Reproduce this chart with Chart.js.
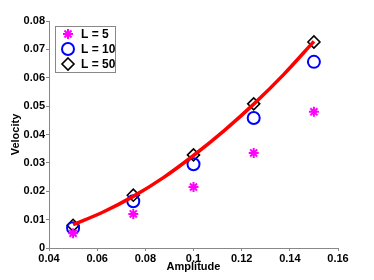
<!DOCTYPE html>
<html>
<head>
<meta charset="utf-8">
<script src="https://cdn.jsdelivr.net/npm/chart.js@4/dist/chart.umd.min.js"></script>
<style>
  html, body { margin: 0; padding: 0; background: #fff; }
  #wrap { width: 374px; height: 280px; }
</style>
</head>
<body>
<div id="wrap"><canvas id="velChart" width="374" height="280"></canvas></div>
<script>
const amplitudes = [0.05, 0.075, 0.1, 0.125, 0.15];
const velL5 = [0.0052, 0.0120, 0.0215, 0.0335, 0.0480];
const velL10 = [0.0070, 0.0165, 0.0295, 0.0458, 0.0656];
const velL50 = [0.0080, 0.0186, 0.0328, 0.0508, 0.0726];
// red fitted curve
const fitAmp = [0.05, 0.0625, 0.075, 0.0875, 0.1, 0.1125, 0.125, 0.1375, 0.15];
const fitVel = [0.0082, 0.0127, 0.0182, 0.0248, 0.0326, 0.0412, 0.0507, 0.0612, 0.0728];

const font = { family: 'Liberation Sans, Arial, sans-serif', size: 11, weight: 'bold' };

const pts = (xs, ys) => xs.map((x, i) => ({ x: x, y: ys[i] }));

const series = [
  { label: 'L = 5', data: velL5, color: '#ff00ff', style: 'star', r: 5, w: 2 },
  { label: 'L = 10', data: velL10, color: '#0000ff', style: 'circle', r: 6, w: 2 },
  { label: 'L = 50', data: velL50, color: '#000000', style: 'rectRot', r: 6, w: 1.6 }
];

const boxLegend = {
  id: 'boxLegend',
  afterDatasetsDraw(chart) {
    const c = chart.ctx;
    const a = chart.chartArea;
    const x0 = a.left + 6, y0 = a.top + 5, w = 60, h = 46;
    c.save();
    c.fillStyle = '#fff';
    c.fillRect(x0, y0, w, h);
    c.strokeStyle = '#888';
    c.lineWidth = 1;
    c.strokeRect(x0 + 0.5, y0 + 0.5, w, h);
    c.font = 'bold 12px Liberation Sans, Arial, sans-serif';
    c.textBaseline = 'middle';
    series.forEach((s, i) => {
      const cy = y0 + 8 + i * 15;
      const cx = x0 + 13;
      c.strokeStyle = s.color;
      c.lineWidth = s.w;
      c.beginPath();
      if (s.style === 'circle') {
        c.arc(cx, cy, s.r, 0, Math.PI * 2);
      } else if (s.style === 'rectRot') {
        c.moveTo(cx, cy - s.r); c.lineTo(cx + s.r, cy);
        c.lineTo(cx, cy + s.r); c.lineTo(cx - s.r, cy); c.closePath();
      } else {
        for (let k = 0; k < 4; k++) {
          const t = k * Math.PI / 4;
          c.moveTo(cx - s.r * Math.cos(t), cy - s.r * Math.sin(t));
          c.lineTo(cx + s.r * Math.cos(t), cy + s.r * Math.sin(t));
        }
      }
      c.stroke();
      c.fillStyle = '#000';
      c.fillText(s.label, x0 + 26, cy + 1);
    });
    c.restore();
  }
};

const datasets = series.map(s => ({
  label: s.label,
  data: pts(amplitudes, s.data),
  showLine: false,
  pointStyle: s.style,
  pointRadius: s.r,
  pointBorderWidth: s.w,
  pointBorderColor: s.color,
  pointBackgroundColor: 'rgba(0,0,0,0)'
}));
datasets.unshift({
  label: 'fit',
  data: pts(fitAmp, fitVel),
  showLine: true,
  borderColor: '#ff0000',
  borderWidth: 3.5,
  pointRadius: 0,
  tension: 0.4,
  cubicInterpolationMode: 'monotone'
});

new Chart(document.getElementById('velChart'), {
  type: 'scatter',
  data: { datasets: datasets },
  options: {
    responsive: false,
    animation: false,
    layout: { padding: { top: 21, right: 36, left: 0, bottom: 0 } },
    plugins: { legend: { display: false }, tooltip: { enabled: false } },
    scales: {
      x: {
        type: 'linear', min: 0.04, max: 0.16,
        border: { color: '#888', width: 1 },
        grid: { drawOnChartArea: false, tickLength: 3, color: '#888' },
        ticks: {
          stepSize: 0.02, color: '#000', font: font, padding: 1,
          callback: v => String(parseFloat(v.toFixed(3)))
        },
        title: { display: true, text: 'Amplitude', color: '#000', font: font, padding: { top: 0, bottom: 6 } },
        afterFit: s => { s.height = 32; }
      },
      y: {
        type: 'linear', min: 0, max: 0.08,
        border: { color: '#888', width: 1 },
        grid: { drawOnChartArea: false, tickLength: 3, color: '#888' },
        ticks: {
          stepSize: 0.01, color: '#000', font: font, padding: 1,
          callback: v => String(parseFloat(v.toFixed(3)))
        },
        title: { display: true, text: 'Velocity', color: '#000', font: font, padding: { top: 9, bottom: 0 } },
        afterFit: s => { s.width = 49; }
      }
    }
  },
  plugins: [boxLegend]
});
</script>
</body>
</html>
